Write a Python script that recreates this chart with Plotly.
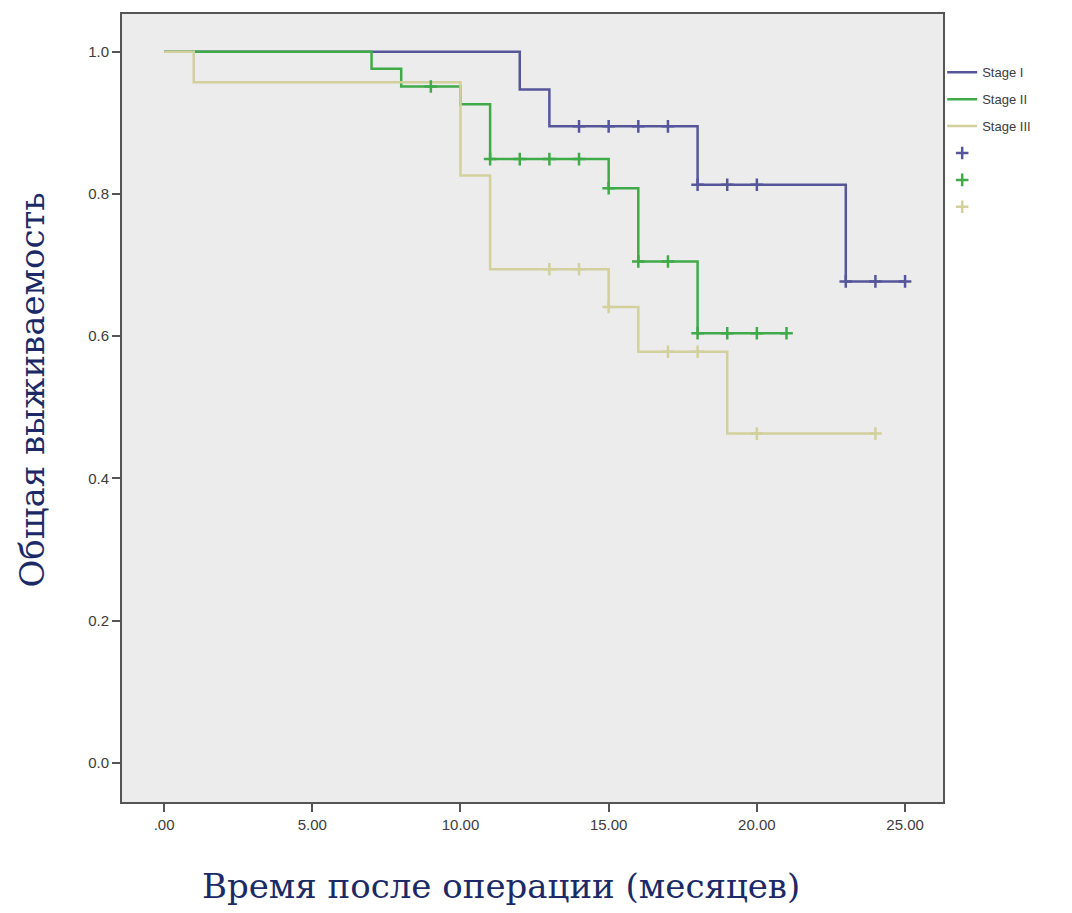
import plotly.graph_objects as go

# Kaplan-Meier step data: event times and survival after each event
stage1_times = [0, 12, 13, 18, 23]
stage1_surv = [1.0, 0.947, 0.895, 0.813, 0.677]
stage1_end = 25
stage1_censored = [14, 15, 16, 17, 18, 19, 20, 23, 24, 25]

stage2_times = [0, 7, 8, 10, 11, 15, 16, 18]
stage2_surv = [1.0, 0.976, 0.951, 0.926, 0.849, 0.808, 0.705, 0.604]
stage2_end = 21
stage2_censored = [9, 11, 12, 13, 14, 15, 16, 17, 18, 19, 20, 21]

stage3_times = [0, 1, 10, 11, 15, 16, 19]
stage3_surv = [1.0, 0.957, 0.826, 0.694, 0.641, 0.578, 0.463]
stage3_end = 24
stage3_censored = [13, 14, 15, 17, 18, 20, 24]

stage_names = ["Stage I", "Stage II", "Stage III"]
stage_colors = ["#55569a", "#3faa48", "#d2d09c"]

x_tickvals = [0, 5, 10, 15, 20, 25]
x_ticktext = [".00", "5.00", "10.00", "15.00", "20.00", "25.00"]
y_tickvals = [0.0, 0.2, 0.4, 0.6, 0.8, 1.0]
y_ticktext = ["0.0", "0.2", "0.4", "0.6", "0.8", "1.0"]

x_title = "Время после операции (месяцев)"
y_title = "Общая выживаемость"


def surv_at(times, surv, t):
    """Survival value of the step function at time t."""
    s = surv[0]
    for ti, si in zip(times, surv):
        if ti <= t:
            s = si
    return s


stages = [
    (stage1_times, stage1_surv, stage1_end, stage1_censored),
    (stage2_times, stage2_surv, stage2_end, stage2_censored),
    (stage3_times, stage3_surv, stage3_end, stage3_censored),
]

fig = go.Figure()

for i, (times, surv, end, _) in enumerate(stages):
    fig.add_trace(go.Scatter(
        x=times + [end], y=surv + [surv[-1]],
        mode="lines", line=dict(shape="hv", color=stage_colors[i], width=2.5),
        name=stage_names[i], legendgroup=f"g{i}",
    ))

for i, (times, surv, end, cens) in enumerate(stages):
    fig.add_trace(go.Scatter(
        x=cens, y=[surv_at(times, surv, t) for t in cens],
        mode="markers",
        marker=dict(symbol="cross-thin", size=9,
                    line=dict(color=stage_colors[i], width=2.5)),
        name=" ", legendgroup=f"c{i}",
    ))

axis_common = dict(
    showline=True, linecolor="#555555", linewidth=2, mirror=True,
    ticks="outside", ticklen=8, tickwidth=2, tickcolor="#555555",
    showgrid=False, zeroline=False,
    tickfont=dict(family="Liberation Sans, Arial", size=15, color="#3c3c3c"),
)

fig.update_layout(
    width=1072, height=913,
    margin=dict(l=122, r=129, t=12, b=111),
    paper_bgcolor="white", plot_bgcolor="#ececec",
    xaxis=dict(range=[-1.42, 26.28], tickvals=x_tickvals, ticktext=x_ticktext,
               **axis_common),
    yaxis=dict(range=[-0.055, 1.053], tickvals=y_tickvals, ticktext=y_ticktext,
               **axis_common),
    showlegend=True,
    legend=dict(x=0.999, y=0.945, xanchor="left", yanchor="top",
                bgcolor="rgba(0,0,0,0)", tracegroupgap=7,
                font=dict(family="Liberation Sans, Arial", size=13, color="#3c3c3c")),
    annotations=[
        dict(text=x_title, xref="paper", yref="paper", x=0.462, y=-0.106,
             xanchor="center", yanchor="middle", showarrow=False,
             font=dict(family="DejaVu Serif", size=34, color="#1b2a66")),
        dict(text=y_title, xref="paper", yref="paper", x=-0.110, y=0.523,
             xanchor="center", yanchor="middle", showarrow=False, textangle=-90,
             font=dict(family="DejaVu Serif", size=34, color="#1b2a66")),
    ],
)

fig.write_html("out.html")
